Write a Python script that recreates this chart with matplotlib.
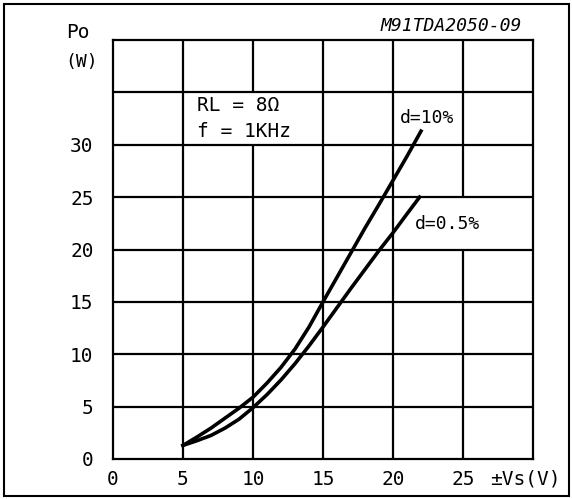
import matplotlib
matplotlib.use('Agg')
import matplotlib.pyplot as plt
from matplotlib.patches import Rectangle

# ---- data ----
vs_d10 = [5.0, 6.0, 7.0, 8.0, 9.0, 10.0, 11.0, 12.0, 13.0, 14.0, 15.0, 16.0, 17.0, 18.0, 19.0, 20.0, 21.0, 22.0]
po_d10 = [1.3, 2.1, 2.95, 3.9, 4.85, 5.9, 7.25, 8.75, 10.5, 12.6, 15.0, 17.35, 19.7, 22.05, 24.3, 26.6, 28.9, 31.3]

vs_d05 = [5.0, 6.0, 7.0, 8.0, 9.0, 10.0, 11.0, 12.0, 13.0, 14.0, 15.0, 16.0, 17.0, 18.0, 19.0, 20.0, 21.0, 21.9]
po_d05 = [1.3, 1.75, 2.25, 2.95, 3.8, 4.9, 6.15, 7.55, 9.1, 10.8, 12.6, 14.45, 16.3, 18.1, 19.9, 21.6, 23.4, 25.0]

x_ticks = [0, 5, 10, 15, 20, 25]
x_tick_labels = ['0', '5', '10', '15', '20', '25']
y_ticks = [0, 5, 10, 15, 20, 25, 30]
y_tick_labels = ['0', '5', '10', '15', '20', '25', '30']

label_d10 = 'd=10%'
label_d05 = 'd=0.5%'
cond_1 = 'RL = 8Ω'
cond_2 = 'f = 1KHz'
title = 'M91TDA2050-09'
ylab1 = 'Po'
ylab2 = '(W)'
xlab = '±Vs(V)'

plt.rcParams['font.family'] = ['DejaVu Sans Mono', 'DejaVu Sans']

W, H = 572, 499
fig = plt.figure(figsize=(W / 100, H / 100), dpi=100)
ax = fig.add_axes([113 / W, 40 / H, 420 / W, 419 / H])
ax.set_xlim(0, 30)
ax.set_ylim(0, 40)

grid_lw = 1.6
for s in ax.spines.values():
    s.set_linewidth(grid_lw)
    s.set_color('black')

# grid (with gaps behind the text boxes)
for x in [5, 15, 20]:
    ax.vlines(x, 0, 40, color='black', lw=grid_lw)
ax.vlines(10, 0, 30, color='black', lw=grid_lw)
ax.vlines(10, 35, 40, color='black', lw=grid_lw)
ax.vlines(25, 0, 20, color='black', lw=grid_lw)
ax.vlines(25, 25, 40, color='black', lw=grid_lw)
for y in [5, 10, 15, 20, 25, 30, 35]:
    ax.hlines(y, 0, 30, color='black', lw=grid_lw)

ax.plot(vs_d10, po_d10, color='black', lw=2.6, solid_joinstyle='round', zorder=5)
ax.plot(vs_d05, po_d05, color='black', lw=2.6, solid_joinstyle='round', zorder=5)

ax.set_xticks(x_ticks)
ax.set_xticklabels(x_tick_labels)
ax.set_yticks(y_ticks)
ax.set_yticklabels(y_tick_labels)
ax.tick_params(axis='both', length=0, labelsize=14)
ax.tick_params(axis='x', pad=8)
ax.tick_params(axis='y', pad=14)

ax.text(22.46, 32.55, label_d10, ha='center', va='center', fontsize=13, zorder=6)
ax.text(23.9, 22.43, label_d05, ha='center', va='center', fontsize=13, zorder=6)
ax.text(6.0, 33.7, cond_1, ha='left', va='center', fontsize=14)
ax.text(6.0, 31.3, cond_2, ha='left', va='center', fontsize=14)

fig.text(522 / W, 1 - 26 / H, title, ha='right', va='center', fontsize=13, style='italic')
fig.text(78 / W, 1 - 32 / H, ylab1, ha='center', va='center', fontsize=14)
fig.text(82 / W, 1 - 62 / H, ylab2, ha='center', va='center', fontsize=13)
fig.text(490 / W, 1 - 479 / H, xlab, ha='left', va='center', fontsize=14)

fig.add_artist(Rectangle((3.5 / W, 3.5 / H), (568.5 - 3.5) / W, (495.5 - 3.5) / H,
                         transform=fig.transFigure, fill=False, lw=1.5, ec='black'))

fig.savefig('out.png', dpi=100)
